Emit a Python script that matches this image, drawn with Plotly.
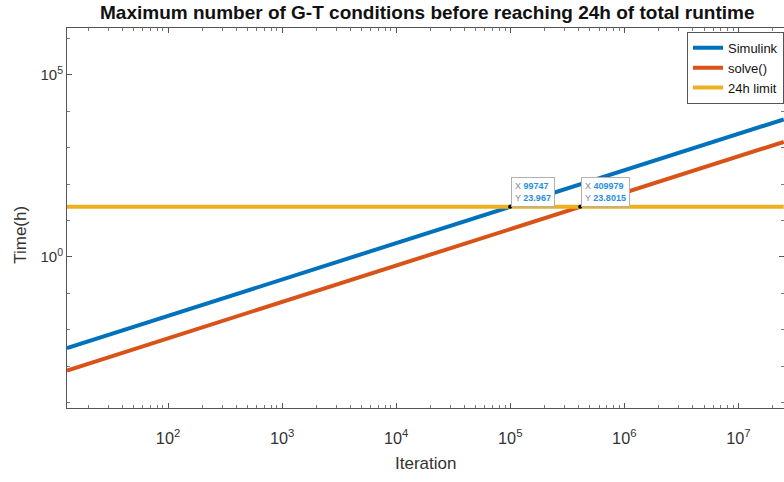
import numpy as np
import plotly.graph_objects as go

# Iteration counts (x) and total runtime in hours for each approach
iterations = [13, 99747, 409979, 2.5e7]
simulink_hours = [0.00312, 23.967, 98.51, 6007.0]
solve_hours = [0.000755, 5.791, 23.8015, 1451.0]
limit_hours = [24, 24, 24, 24]

# Crossing points of each approach with the 24h limit
tip_x = [99747, 409979]
tip_y = [23.967, 23.8015]
tip_y_text = ["23.967", "23.8015"]

# Labelled decades on the time axis
y_tick_vals = [1, 1e5]
y_tick_text = ["10<sup>0</sup>", "10<sup>5</sup>"]

series_names = ["Simulink", "solve()", "24h limit"]
series_colors = ["#0072BD", "#D95319", "#EDB120"]

FONT = "Liberation Sans"
TEXT_COL = "#333333"

fig = go.Figure()
for name, ys, col in zip(series_names, [simulink_hours, solve_hours, limit_hours], series_colors):
    fig.add_trace(go.Scatter(x=iterations, y=ys, mode="lines", name=name,
                             line=dict(color=col, width=4)))

fig.add_trace(go.Scatter(x=tip_x, y=tip_y, mode="markers", showlegend=False,
                         marker=dict(color="black", size=4)))

# Data tips at the crossing points
for xv, yv, ytxt in zip(tip_x, tip_y, tip_y_text):
    fig.add_annotation(
        x=np.log10(xv), y=np.log10(yv), xref="x", yref="y",
        xanchor="left", yanchor="bottom", showarrow=False, xshift=1,
        text=(f"<span style='color:#7a8aa0'>X</span> <b>{xv}</b><br>"
              f"<span style='color:#7a8aa0'>Y</span> <b>{ytxt}</b>"),
        align="left", font=dict(family=FONT, size=9, color="#2a8fe0"),
        bgcolor="white", bordercolor="#b0b0b0", borderwidth=1, borderpad=3,
    )

axis_common = dict(
    type="log", showgrid=False, zeroline=False,
    showline=True, linecolor="#555555", linewidth=1, mirror="ticks",
    ticks="inside", ticklen=5, tickcolor="#555555",
    exponentformat="power",
)

fig.update_xaxes(
    **axis_common,
    range=[np.log10(13), 7.40], dtick=1,
    tickfont=dict(family=FONT, size=13, color=TEXT_COL),
    minor=dict(dtick="D1", ticks="inside", ticklen=3, tickcolor="#777777"),
    ticklabelstandoff=16,
)
fig.update_yaxes(
    **axis_common,
    range=[-4.15, 6.29], tickmode="array", tickvals=y_tick_vals, ticktext=y_tick_text,
    tickfont=dict(family=FONT, size=15, color=TEXT_COL),
    minor=dict(tickmode="linear", dtick=1, ticks="inside", ticklen=3, tickcolor="#777777"),
)

# Axis titles
fig.add_annotation(text="Iteration", xref="paper", yref="paper", x=0.5, y=-0.146,
                   xanchor="center", yanchor="middle", showarrow=False,
                   font=dict(family=FONT, size=17, color=TEXT_COL))
fig.add_annotation(text="Time(h)", xref="paper", yref="paper", x=-0.066, y=0.455,
                   xanchor="center", yanchor="middle", showarrow=False, textangle=-90,
                   font=dict(family=FONT, size=17, color=TEXT_COL))

fig.update_layout(
    width=784, height=482,
    margin=dict(l=67, r=0, t=28, b=74),
    paper_bgcolor="white", plot_bgcolor="white",
    title=dict(text="<b>Maximum number of G-T conditions before reaching 24h of total runtime</b>",
               x=0.545, xanchor="center", y=0.975, yanchor="middle",
               font=dict(family=FONT, size=19, color="#111111")),
    legend=dict(x=1.0, xanchor="right", y=0.99, yanchor="top",
                bgcolor="white", bordercolor="#555555", borderwidth=1,
                font=dict(family=FONT, size=13, color="#111111"),
                tracegroupgap=0, itemwidth=30),
    showlegend=True,
)

fig.write_html("out.html")
